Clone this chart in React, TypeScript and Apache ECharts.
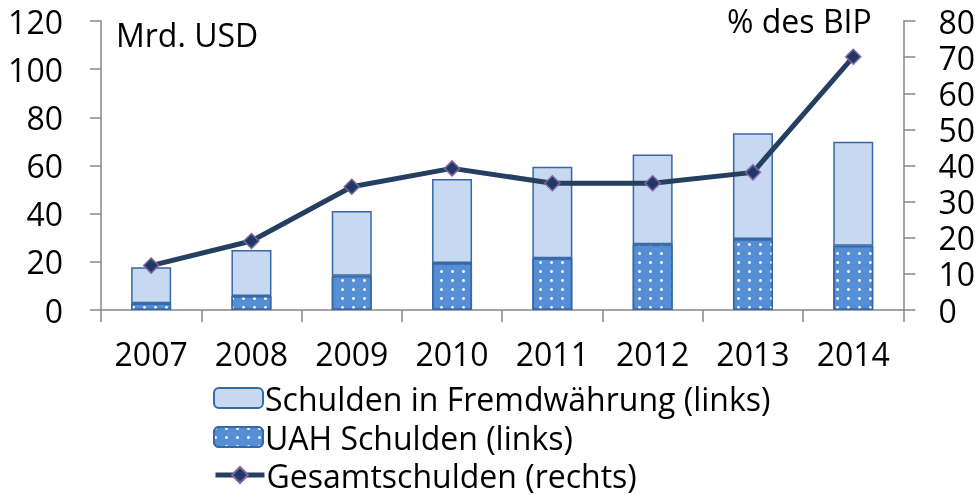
import React, { useEffect, useRef } from "react";
import * as echarts from "echarts";

const years = ["2007", "2008", "2009", "2010", "2011", "2012", "2013", "2014"];
const uahDebt = [2.8, 5.8, 14.2, 19.5, 21.5, 27.3, 29.5, 26.7];
const foreignDebt = [14.9, 19.1, 26.9, 34.9, 38.0, 37.3, 43.9, 43.2];
const totalDebtPct = [12.3, 19.1, 34.1, 39.2, 35.1, 35.1, 38.1, 70.1];
const leftTicks = { min: 0, max: 120, interval: 20 };
const rightTicks = { min: 0, max: 80, interval: 10 };
const seriesNames = ["Schulden in Fremdwährung (links)", "UAH Schulden (links)", "Gesamtschulden (rechts)"];

const FONT = "'Open Sans', sans-serif";

export default function App() {
  const ref = useRef<HTMLDivElement>(null);
  useEffect(() => {
    if (!ref.current) return;
    const chart = echarts.init(ref.current, undefined, { renderer: "svg" });
    const axisColor = "#878787";
    const barBorder = "#3768A6";
    const legendTops = [382, 421, 459];
    chart.setOption({
      animation: false,
      textStyle: { fontFamily: FONT, color: "#000" },
      grid: { left: 101, right: 74, top: 21, bottom: 185, containLabel: false },
      legend: seriesNames.map((n, i) => ({
        orient: "vertical",
        left: 213,
        top: legendTops[i],
        padding: 0,
        itemWidth: 49,
        itemHeight: 20,
        textStyle: { fontSize: 32, fontFamily: FONT, color: "#000", lineHeight: 32, padding: [0, 0, 0, -3] },
        lineStyle: i === 2 ? { width: 5 } : undefined,
        data: [n],
      })),
      xAxis: {
        type: "category",
        data: years,
        boundaryGap: true,
        axisLine: { lineStyle: { color: axisColor, width: 1.5 } },
        axisTick: { show: true, length: 12, lineStyle: { color: axisColor, width: 1.5 } },
        axisLabel: { fontSize: 32, fontFamily: FONT, color: "#000", margin: 27 },
      },
      yAxis: [
        {
          type: "value",
          ...leftTicks,
          position: "left",
          axisLine: { show: true, lineStyle: { color: axisColor, width: 1.5 } },
          axisTick: { show: true, length: 11, lineStyle: { color: axisColor, width: 1.5 } },
          splitLine: { show: false },
          axisLabel: { fontSize: 32, fontFamily: FONT, color: "#000", margin: 38, lineHeight: 32 },
        },
        {
          type: "value",
          ...rightTicks,
          position: "right",
          axisLine: { show: true, lineStyle: { color: axisColor, width: 1.5 } },
          axisTick: { show: true, length: 12, lineStyle: { color: axisColor, width: 1.5 } },
          splitLine: { show: false },
          axisLabel: { fontSize: 32, fontFamily: FONT, color: "#000", margin: 35, lineHeight: 32 },
        },
      ],
      graphic: [
        { type: "text", left: 116, top: 18, style: { text: "Mrd. USD", font: `32px ${FONT}`, fill: "#000" } },
        { type: "text", left: 727, top: 4, style: { text: "% des BIP", font: `32px ${FONT}`, fill: "#000" } },
      ],
      series: [
        {
          name: seriesNames[1],
          type: "bar",
          stack: "debt",
          barWidth: 40,
          data: uahDebt,
          itemStyle: {
            color: "#558ED5",
            borderColor: barBorder,
            borderWidth: 1.5,
            decal: {
              symbol: "circle",
              symbolSize: 1,
              color: "rgba(255,255,255,0.95)",
              dashArrayX: [3, 8],
              dashArrayY: [3, 6],
              rotation: 0,
            },
          },
        },
        {
          name: seriesNames[0],
          type: "bar",
          stack: "debt",
          barWidth: 40,
          data: foreignDebt,
          itemStyle: { color: "#C6D9F1", borderColor: barBorder, borderWidth: 1.5 },
        },
        {
          name: seriesNames[2],
          type: "line",
          yAxisIndex: 1,
          data: totalDebtPct,
          symbol: "diamond",
          symbolSize: 15,
          lineStyle: { color: "#243F60", width: 5 },
          itemStyle: { color: "#1F3864", borderColor: "#8064A2", borderWidth: 1.5 },
          z: 5,
        },
      ],
    });
    return () => chart.dispose();
  }, []);
  return <div ref={ref} style={{ position: "fixed", left: 0, top: 0, width: 978, height: 495 }} />;
}
